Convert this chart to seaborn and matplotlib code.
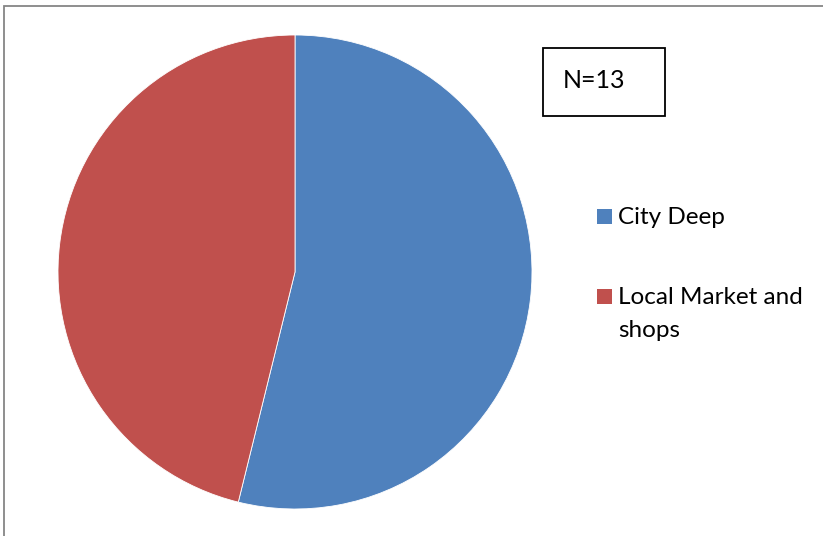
import matplotlib
matplotlib.use("Agg")
import matplotlib.pyplot as plt
from matplotlib.patches import Rectangle
import seaborn as sns

sns.set_theme(style="white")
plt.rcParams['font.family'] = ['Lato', 'DejaVu Sans']

categories = ["City Deep", "Local Market and\nshops"]
counts = [7, 6]
total_label = "N=13"
colors = ["#4F81BD", "#C0504D"]

fig = plt.figure(figsize=(8.23, 5.36), dpi=100)
W, H = 823, 536


def fx(px):
    return px / W


def fy(py):
    return 1 - py / H


# outer chart-area frame (runs off the right and bottom edges)
fig.add_artist(Rectangle((fx(4), fy(600)), fx(900), fy(6) - fy(600),
                         transform=fig.transFigure, fill=False,
                         edgecolor="#868686", linewidth=1.3))

cx, cy, r = 295, 272, 237
ax = fig.add_axes([fx(cx - r), fy(cy + r), 2 * r / W, 2 * r / H])
wedges, _ = ax.pie(counts, colors=colors, startangle=90, counterclock=False,
                   wedgeprops=dict(edgecolor="white", linewidth=0.6))
ax.set_aspect("auto")
ax.set_xlim(-1, 1)
ax.set_ylim(-1, 1)
ax.axis("off")

# N box
fig.add_artist(Rectangle((fx(543), fy(116)), fx(665) - fx(543), fy(48) - fy(116),
                         transform=fig.transFigure, fill=False,
                         edgecolor="black", linewidth=1.3))
fig.text(fx(563), fy(88), total_label, fontsize=18, va="baseline", ha="left",
         color="black")

# legend: colour square plus label lines
legend_base = [224, 304]
line_step = 33
for label, color, yb in zip(categories, colors, legend_base):
    fig.add_artist(Rectangle((fx(597), fy(yb)), 15 / W, 15 / H,
                             transform=fig.transFigure, facecolor=color,
                             edgecolor="none"))
    for i, line in enumerate(label.split("\n")):
        fig.text(fx(618), fy(yb + i * line_step), line, fontsize=17.5,
                 va="baseline", ha="left", color="black")

fig.savefig("out.png", dpi=100)
